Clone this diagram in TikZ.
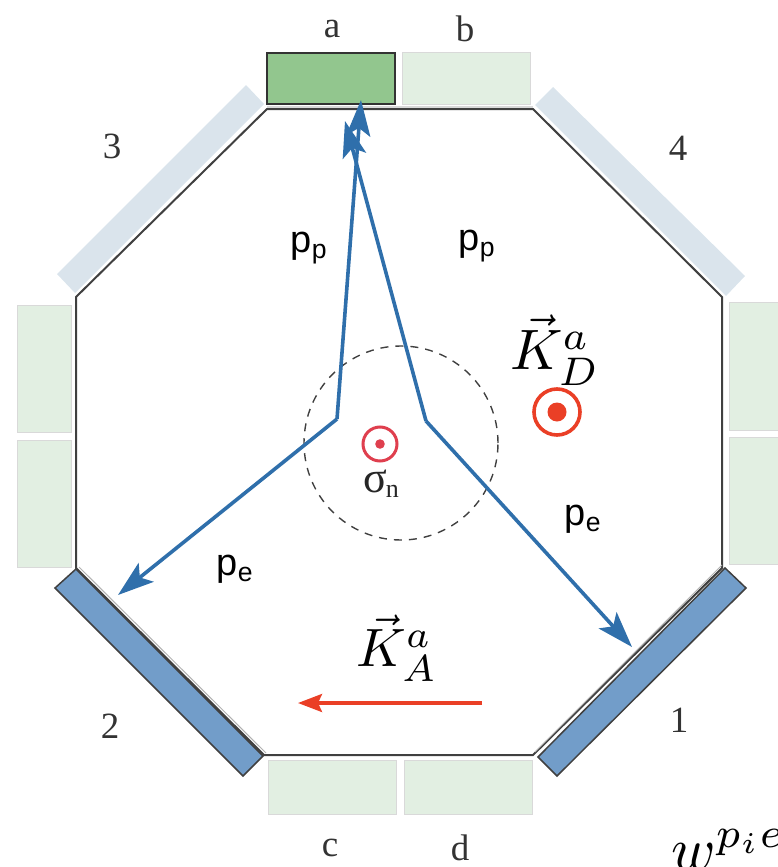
\documentclass[tikz,border=0pt]{standalone}
\usepackage{fontspec}
\setmainfont{Liberation Serif}
\newfontfamily\sansf{Liberation Sans}
\usetikzlibrary{arrows.meta}
\definecolor{pale}{HTML}{E2EFE2}
\definecolor{palebd}{HTML}{D9D9D9}
\definecolor{active}{HTML}{92C68E}
\definecolor{greyblue}{HTML}{DAE4EC}
\definecolor{steel}{HTML}{729DC9}
\definecolor{traj}{HTML}{2F6FAB}
\definecolor{redo}{HTML}{EA3F26}
\definecolor{redp}{HTML}{DF3F4E}
\tikzset{
  paletile/.style={fill=pale,draw=palebd,line width=1pt},
  bluetile/.style={fill=greyblue,draw=none},
  steeltile/.style={fill=steel,draw=black!75,line width=1.5pt},
  track/.style={draw=traj,line width=3.6pt,line join=round,-{Stealth[length=36pt,width=24pt,inset=8pt]}},
  lab/.style={font=\fontsize{37}{40}\selectfont,text=black!80,inner sep=0pt},
  plab/.style={font=\sansf\fontsize{38}{40}\selectfont,text=black,inner sep=0pt},
}
\begin{document}
\begin{tikzpicture}[x=1pt,y=-1pt]
\useasboundingbox (0,0) rectangle (778,867);
\begin{scope}
\clip (0,0) rectangle (778,867);
% detectors
\draw[paletile] (402,53) rectangle (530,104);
\draw[fill=active,draw=black!80,line width=2pt] (267,53) rectangle (395,104);
\draw[paletile] (268,760) rectangle (396,814);
\draw[paletile] (404,760) rectangle (532,814);
\draw[paletile] (17,305) rectangle (71,432);
\draw[paletile] (17,440) rectangle (71,567);
\draw[paletile] (729,302) rectangle (785,430);
\draw[paletile] (729,437) rectangle (785,564);
\fill[bluetile] (57,274) -- (246,85) -- (264,104) -- (75,293) -- cycle;
\fill[bluetile] (535,105) -- (553,87) -- (745,276) -- (726,296) -- cycle;
% octagon
\draw[black!75,line width=2pt,line join=miter] (267,109) -- (533,109) -- (722,297) -- (722,568) -- (533,755) -- (264,755) -- (76,568) -- (76,297) -- cycle;
\draw[palebd,line width=1.5pt] (267,107) -- (533,107);
\draw[steeltile] (76,569) -- (55,588) -- (243,776) -- (263,756) -- cycle;
\draw[steeltile] (725,568) -- (746,588) -- (557,776) -- (538,757) -- cycle;
\draw[white!70!black,line width=1pt] (79,567) -- (266,753);
\draw[white!70!black,line width=1pt] (722,565) -- (535,752);
% dashed circle
\node (ring) at (401,443) [circle,draw=black!75,line width=1.4pt,minimum size=194pt,inner sep=0pt,dash pattern=on 8pt off 7pt] {};
% tracks
\coordinate (v1) at (337,419);
\coordinate (v2) at (426,421);
\coordinate (tA) at (361,100);
\coordinate (tB) at (345,121);
\coordinate (tC) at (118,595);
\coordinate (tD) at (632,647);
\draw[track] (v1) -- (tA);
\draw[track] (v2) -- (tB);
\draw[track] (v1) -- (tC);
\draw[track] (v2) -- (tD);
% field symbols
\node (kd) at (557,412) [circle,draw=redo,line width=3.6pt,minimum size=46pt,inner sep=0pt] {};
\fill[redo] (kd.center) circle (9.5);
\node (sg) at (380,444) [circle,draw=redp,line width=3pt,minimum size=34pt,inner sep=0pt] {};
\fill[redp] (sg.center) circle (4.8);
\coordinate (rs) at (482,703);
\coordinate (re) at (298,703);
\draw[redo,line width=3.4pt,-{Stealth[length=24pt,width=18pt,inset=4pt]}] (rs) -- (re);
% labels
\node[lab] at (332,29) {a};
\node[lab] at (465,29) {b};
\node[lab] at (112,146) {3};
\node[lab] at (678,148) {4};
\node[lab] at (110,726) {2};
\node[lab] at (679,720) {1};
\node[lab] at (330,848) {c};
\node[lab] at (460,848) {d};
\node[plab] at (309,248) {p\textsubscript{p}};
\node[plab] at (477,246) {p\textsubscript{p}};
\node[plab] at (235,569) {p\textsubscript{e}};
\node[plab] at (583,519) {p\textsubscript{e}};
\node[inner sep=0pt,text=black!85,font=\fontsize{44}{46}\selectfont] at (381,484) {σ\kern-1pt\raisebox{-5pt}{\fontsize{26}{26}\selectfont n}};
\node[inner sep=0pt,scale=5.7] at (555,350) {$\vec{K}^{a}_{D}$};
\node[inner sep=0pt,scale=5.4] at (397,648) {$\vec{K}^{a}_{A}$};
\node[inner sep=0pt,scale=6,anchor=base west] at (670,869) {$w^{p_i e}$};
\end{scope}
\end{tikzpicture}
\end{document}
